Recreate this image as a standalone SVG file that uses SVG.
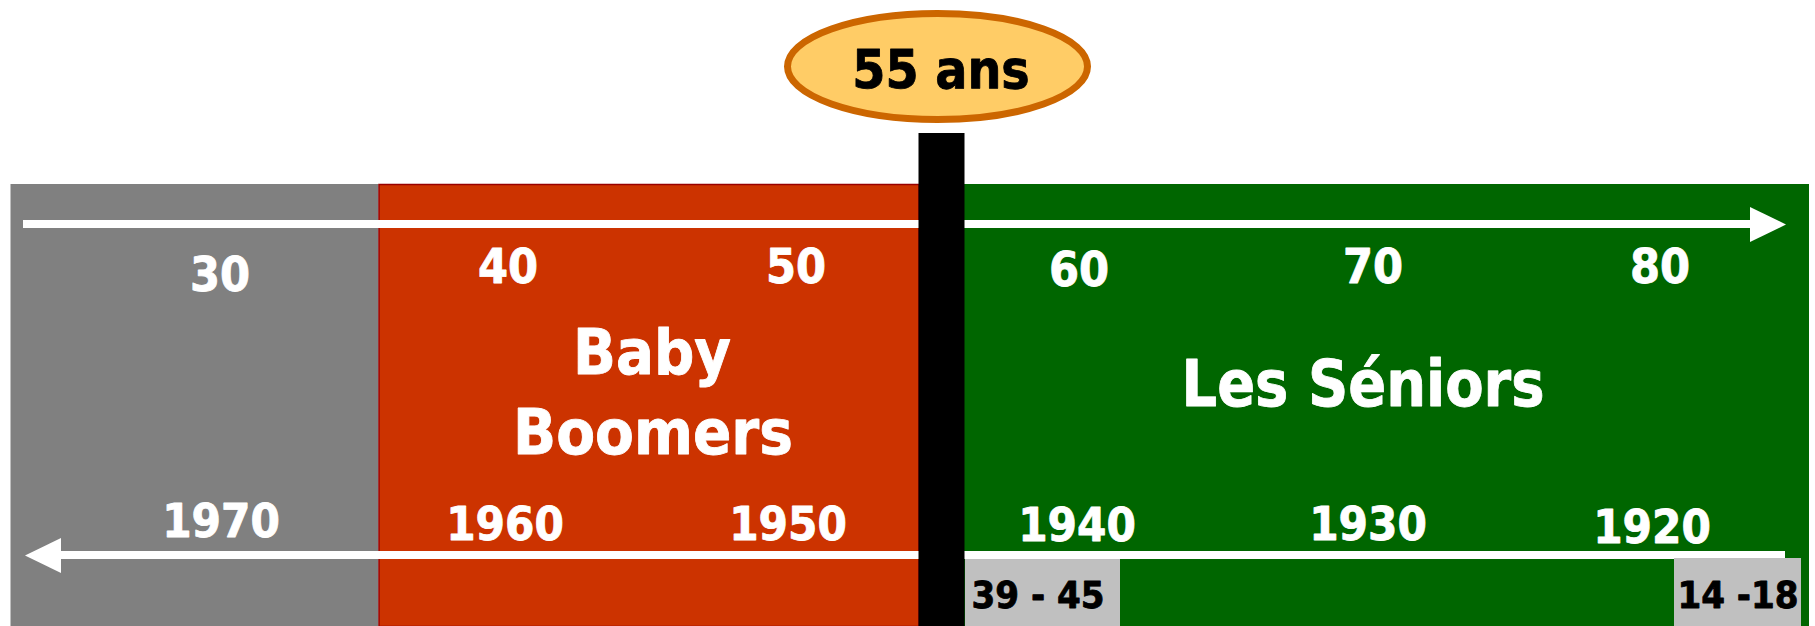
<svg xmlns="http://www.w3.org/2000/svg" width="1815" height="626" viewBox="0 0 1815 626">
  <style>
    text { font-family: "DejaVu Sans Condensed", "DejaVu Sans", sans-serif; font-stretch: condensed; font-weight: bold; text-anchor: middle; stroke-width: 0.8; stroke-linejoin: round; }
    .w { fill: #ffffff; stroke: #ffffff; }
    .dec { font-size: 48px; }
    .yr { font-size: 47px; }
    .big { font-size: 62px; }
    .tag { font-size: 38px; fill: #000000; stroke: #000000; }
    .axis { stroke: #ffffff; stroke-width: 8; fill: none; }
    .head { fill: #ffffff; }
  </style>
  <rect x="0" y="0" width="1815" height="626" fill="#ffffff"/>

  <g id="zone-gray">
    <rect x="10.5" y="184" width="368" height="442" fill="#808080"/>
    <text class="w dec" x="220" y="291">30</text>
    <text class="w yr" x="221" y="537">1970</text>
  </g>

  <g id="zone-babyboomers">
    <rect x="379" y="184.5" width="540" height="442" fill="#CC3300" stroke="#990000" stroke-width="1.5"/>
    <text class="w dec" x="508" y="283">40</text>
    <text class="w dec" x="796" y="283">50</text>
    <text class="w big" x="652" y="374" textLength="158" lengthAdjust="spacingAndGlyphs">Baby</text>
    <text class="w big" x="653" y="454" textLength="280" lengthAdjust="spacingAndGlyphs">Boomers</text>
    <text class="w yr" x="505" y="540">1960</text>
    <text class="w yr" x="788" y="540">1950</text>
  </g>

  <g id="zone-seniors">
    <rect x="964" y="184" width="845" height="442" fill="#006600"/>
    <text class="w dec" x="1079" y="286">60</text>
    <text class="w dec" x="1373" y="283">70</text>
    <text class="w dec" x="1660" y="283">80</text>
    <text class="w big" x="1363" y="406" style="font-size:64px" textLength="363" lengthAdjust="spacingAndGlyphs">Les Séniors</text>
    <text class="w yr" x="1077" y="541">1940</text>
    <text class="w yr" x="1368" y="540">1930</text>
    <text class="w yr" x="1652" y="543">1920</text>
  </g>

  <g id="connectors">
    <line class="axis" x1="23" y1="224" x2="1752" y2="224"/>
    <polygon class="head" points="1750,207 1786,224.5 1750,242"/>
    <line class="axis" x1="58" y1="555" x2="1785" y2="555"/>
    <polygon class="head" points="61,538 25,555.5 61,573"/>
  </g>

  <g id="war-3945">
    <rect x="965" y="559" width="155" height="67" fill="#C0C0C0"/>
    <text class="tag" x="1038" y="608">39 - 45</text>
  </g>

  <g id="war-1418">
    <rect x="1674" y="558" width="127" height="68" fill="#C0C0C0"/>
    <text class="tag" x="1738" y="608">14 -18</text>
  </g>

  <g id="marker-55">
    <rect x="918.5" y="133" width="46" height="493" fill="#000000"/>
    <ellipse cx="937.5" cy="66.5" rx="150" ry="53" fill="#FFCC66" stroke="#CC6600" stroke-width="7"/>
    <text x="941" y="88" style="font-size:53px" fill="#000000" stroke="#000000">55 ans</text>
  </g>
</svg>
